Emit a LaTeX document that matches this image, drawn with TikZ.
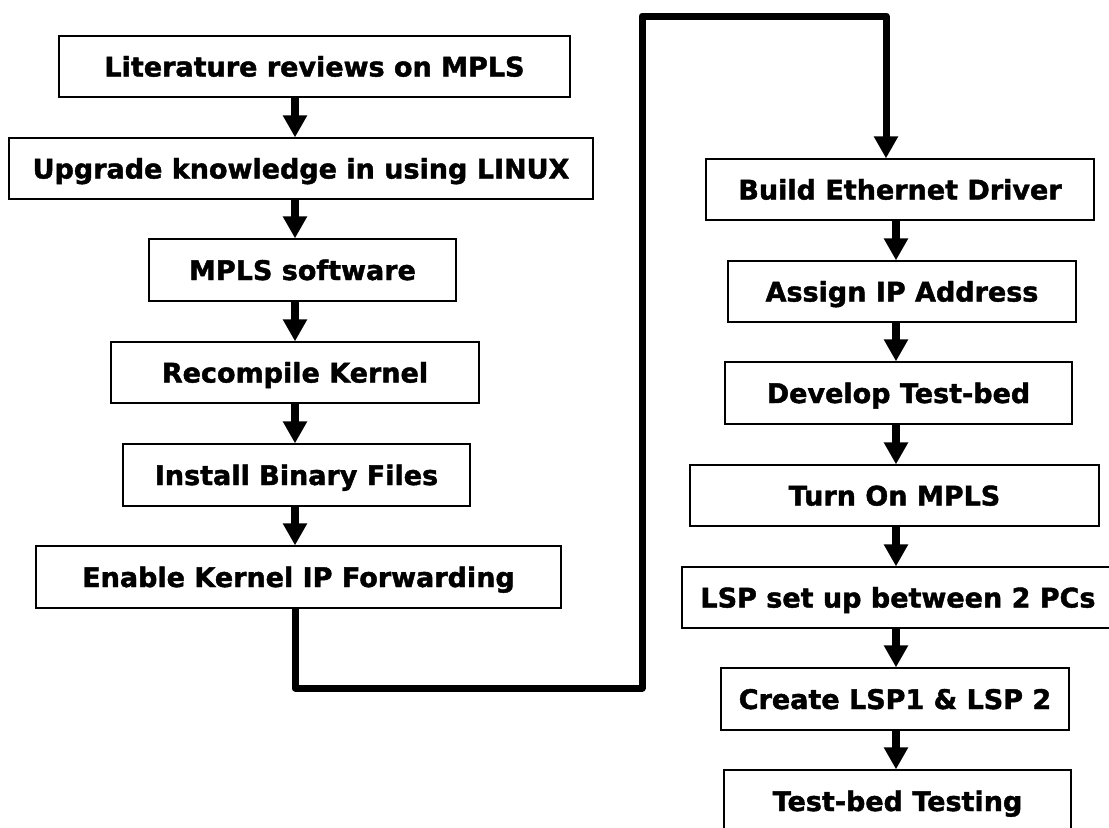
\documentclass[tikz,border=0pt]{standalone}
\usepackage{fontspec}
\setmainfont{DejaVu Sans}[BoldFeatures={FakeBold=1.6}]
\usetikzlibrary{arrows.meta}
\begin{document}
\begin{tikzpicture}[x=1bp,y=-1bp,
  box/.style 2 args={draw=black, line width=1.3bp, inner sep=0pt,
    minimum width=#1bp, minimum height=#2bp,
    text height=20bp, text depth=0pt,
    font=\fontsize{27bp}{31bp}\selectfont\bfseries},
  flow/.style={line width=8bp, -{Triangle[width=23bp,length=22bp]}},
  link/.style={line width=7bp, line join=round, -{Triangle[width=23bp,length=22bp]}}]
\fill[white] (0,0) rectangle (1109,828);
\useasboundingbox (0,0) rectangle (1109,828);
\clip (0,0) rectangle (1109,828);

\coordinate (colL) at (295,0);
\coordinate (colR) at (896,0);

% left column
\node[box={511}{61}] (b1) at (314.5,66.5) {Literature reviews on MPLS};
\node[box={584}{61}] (b2) at (301,168.5) {Upgrade knowledge in using LINUX};
\node[box={307}{62}] (b3) at (302.5,270) {MPLS software};
\node[box={368}{61}] (b4) at (295,372.5) {Recompile Kernel};
\node[box={347}{62}] (b5) at (296.5,475) {Install Binary Files};
\node[box={525}{62}] (b6) at (298.5,577) {Enable Kernel IP Forwarding};

% right column
\node[box={388}{61}] (b7) at (900,189.5) {Build Ethernet Driver};
\node[box={348}{61}] (b8) at (902,291.5) {Assign IP Address};
\node[box={347}{62}] (b9) at (898.5,393) {Develop Test-bed};
\node[box={409}{61}] (b10) at (894.5,495.5) {Turn On MPLS};
\node[box={432}{61}] (b11) at (898,597.5) {LSP set up between 2 PCs};
\node[box={348}{62}] (b12) at (895,699) {Create LSP1 \& LSP 2};
\node[box={347}{62}] (b13) at (897.5,801) {Test-bed Testing};

% arrows left
\draw[flow] (b1.south -| colL) -- (b2.north -| colL);
\draw[flow] (b2.south -| colL) -- (b3.north -| colL);
\draw[flow] (b3.south -| colL) -- (b4.north -| colL);
\draw[flow] (b4.south -| colL) -- (b5.north -| colL);
\draw[flow] (b5.south -| colL) -- (b6.north -| colL);

% arrows right
\draw[flow] (b7.south -| colR) -- (b8.north -| colR);
\draw[flow] (b8.south -| colR) -- (b9.north -| colR);
\draw[flow] (b9.south -| colR) -- (b10.north -| colR);
\draw[flow] (b10.south -| colR) -- (b11.north -| colR);
\draw[flow] (b11.south -| colR) -- (b12.north -| colR);
\draw[flow] (b12.south -| colR) -- (b13.north -| colR);

% long connector
\coordinate (c2) at (642,688);
\coordinate (c4) at (886,16);
\draw[link] (b6.south -| colL) |- (c2) |- (c4) -- (b7.north -| c4);
\end{tikzpicture}
\end{document}
